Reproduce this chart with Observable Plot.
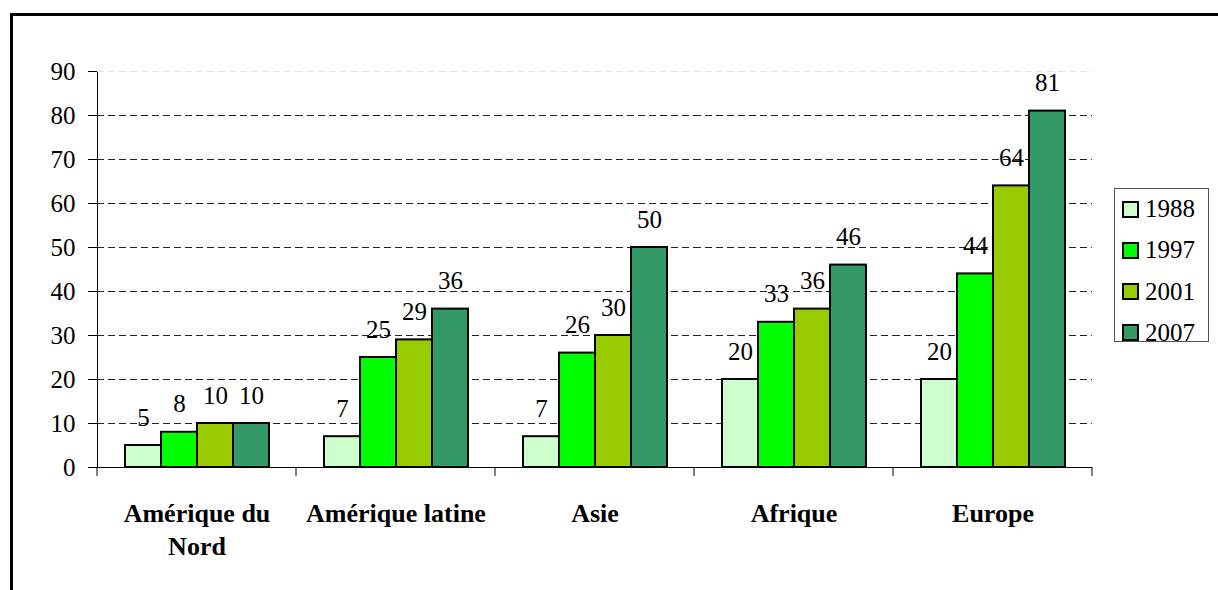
<!DOCTYPE html>
<html>
<head>
<meta charset="utf-8">
<script src="https://cdn.jsdelivr.net/npm/d3@7"></script>
<script src="https://cdn.jsdelivr.net/npm/@observablehq/plot@0.6"></script>
<style>
  html, body { margin: 0; padding: 0; background: white; overflow: hidden; }
  body { width: 1218px; height: 590px; position: relative; font-family: "Times New Roman", "Liberation Serif", "DejaVu Serif", serif; }
  #frame { position: absolute; left: 10px; top: 13px; width: 1400px; height: 800px; border: 3px solid black; box-sizing: border-box; }
  #chart { position: absolute; left: 0; top: 0; }
  #chart svg, #chart svg text { font-family: "Times New Roman", "Liberation Serif", "DejaVu Serif", serif !important; }
  #legend { position: absolute; left: 1114px; top: 188px; width: 95px; height: 154px; border: 1px solid #555; box-sizing: border-box; background: white; }
  .leg-row { position: absolute; left: 7px; height: 30px; display: flex; align-items: center; font-size: 25px; color: black; }
  .leg-sw { width: 13px; height: 13px; border: 2px solid black; margin-right: 6px; }
</style>
</head>
<body>
<div id="frame"></div>
<div id="chart"></div>
<div id="legend"></div>
<script>
const categories = ["Amérique du Nord", "Amérique latine", "Asie", "Afrique", "Europe"];
const categoryLabels = ["Amérique du\nNord", "Amérique latine", "Asie", "Afrique", "Europe"];
const years = ["1988", "1997", "2001", "2007"];
const colors = ["#CCFFCC", "#00FF00", "#99CC00", "#339966"];
const values1988 = [5, 7, 7, 20, 20];
const values1997 = [8, 25, 26, 33, 44];
const values2001 = [10, 29, 30, 36, 64];
const values2007 = [10, 36, 50, 46, 81];
const yTicks = [0, 10, 20, 30, 40, 50, 60, 70, 80, 90];

const series = [values1988, values1997, values2001, values2007];
const data = [];
categories.forEach((c, i) => {
  years.forEach((y, j) => data.push({cat: c, year: y, value: series[j][i]}));
});
const labelMap = new Map(categories.map((c, i) => [c, categoryLabels[i]]));

const plot = Plot.plot({
  width: 1218,
  height: 590,
  marginLeft: 95,
  marginRight: 125,
  marginTop: 71,
  marginBottom: 123,
  style: {fontFamily: "'Times New Roman', 'Liberation Serif', 'DejaVu Serif', serif", fontSize: "25px", color: "black", background: "transparent"},
  fx: {domain: categories, padding: 0, label: null},
  x: {domain: years, paddingInner: 0, paddingOuter: 0.74, axis: null},
  y: {domain: [0, 90], ticks: yTicks, tickSize: 9, tickPadding: 13, label: null, line: true},
  color: {domain: years, range: colors},
  marks: [
    Plot.ruleY([90], {stroke: "#e4e4e4", strokeDasharray: "7,4"}),
    Plot.gridY(yTicks.filter(d => d > 0 && d < 90), {stroke: "#222", strokeOpacity: 1, strokeDasharray: "7,4"}),
    Plot.barY(data, {fx: "cat", x: "year", y: "value", fill: "year", stroke: "black", strokeWidth: 2}),
    Plot.text(data, {fx: "cat", x: "year", y: "value", text: d => String(d.value), dy: -28, fontSize: 25, fill: "black"}),
    Plot.ruleY([0], {stroke: "black"}),
    Plot.axisFx({anchor: "bottom", tickSize: 0, tickPadding: 31, fontWeight: "bold", fontSize: 26, lineHeight: 1.27, tickFormat: d => labelMap.get(d), label: null})
  ]
});
document.getElementById("chart").appendChild(plot);

// category boundary ticks on the x axis, from the library's own scales
const fxs = plot.scale("fx");
const ys = plot.scale("y");
const y0 = ys.apply(0);
const bounds = categories.map(c => fxs.apply(c)).concat([fxs.apply(categories[categories.length - 1]) + fxs.bandwidth]);
const svg = d3.select(plot);
svg.append("g").selectAll("line").data(bounds).join("line")
  .attr("x1", d => d).attr("x2", d => d)
  .attr("y1", y0).attr("y2", y0 + 9)
  .attr("stroke", "black").attr("stroke-width", 1);

// legend
const color = plot.scale("color");
const legend = d3.select("#legend");
years.forEach((yr, i) => {
  const row = legend.append("div").attr("class", "leg-row").style("top", (5 + i * 41.3) + "px");
  row.append("div").attr("class", "leg-sw").style("background", color.apply(yr));
  row.append("span").text(yr);
});
</script>
</body>
</html>
